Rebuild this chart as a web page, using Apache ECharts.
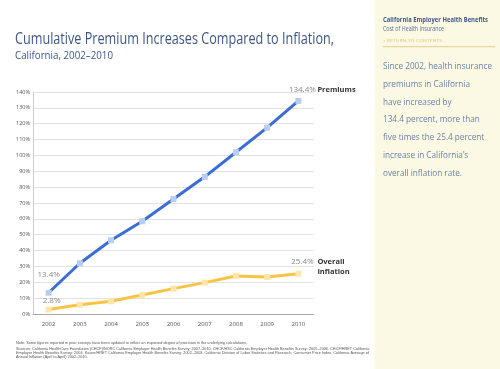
<!DOCTYPE html>
<html><head><meta charset="utf-8">
<script src="https://cdn.jsdelivr.net/npm/echarts@6/dist/echarts.min.js"></script>
<style>html,body{margin:0;padding:0;background:#fff}#c{width:500px;height:369px}</style>
</head><body><div id="c"></div>
<script>
const years = ['2002','2003','2004','2005','2006','2007','2008','2009','2010'];
const premiums = [13.4, 32.0, 46.5, 58.5, 72.5, 86.5, 102.0, 117.5, 134.4];
const inflation = [2.8, 5.8, 8.0, 12.0, 16.0, 19.8, 24.0, 23.3, 25.4];
const yTicks = {min: 0, max: 140, interval: 10};
const panelLines = ['Since 2002, health insurance','premiums in California','have increased by','134.4 percent, more than','five times the 25.4 percent','increase in California\u2019s','overall inflation rate.'];
const footLines = [
 'Note: Some figures reported in prior surveys have been updated to reflect an improved degree of precision in the underlying calculations.',
 'Sources: California HealthCare Foundation (CHCF)/NORC California Employer Health Benefits Survey: 2007\u20132010. CHCF/HSC California Employer Health Benefits Survey: 2005\u20132006. CHCF/HRET California',
 'Employer Health Benefits Survey: 2004. Kaiser/HRET California Employer Health Benefits Survey: 2002\u20132003. California Division of Labor Statistics and Research, Consumer Price Index, California Average of',
 'Annual Inflation (April to April) 2002\u20132010.'
];

const sans = "'Open Sans','Liberation Sans',sans-serif";
const mctx = document.createElement('canvas').getContext('2d');
function widthOf(text, font) { mctx.font = font; return mctx.measureText(text).width; }
function fitText(text, font, x, y, target, fill, sx) {
  const scaleX = sx != null ? sx : target / widthOf(text, font);
  return {type: 'text', x: x, y: y, scaleX: scaleX, style: {text: text, font: font, fill: fill, verticalAlign: 'middle'}};
}

function withEndLabels(vals, firstDist, firstOff, lastDist) {
  return vals.map((v, i) => {
    if (i === 0) return {value: v, label: {show: true, position: 'top', distance: firstDist, offset: firstOff}};
    if (i === vals.length - 1) return {value: v, label: {show: true, position: 'top', distance: lastDist, offset: [4, 0]}};
    return v;
  });
}

const titleFont = "17px " + sans;
const paraFont = "9.5px " + sans;
const footFont = "3.8px 'Liberation Sans',sans-serif";
const paraScale = 109 / widthOf(panelLines[0], paraFont);
const footScale = 231 / widthOf(footLines[0], footFont);

const graphics = [
  {type: 'rect', shape: {x: 375, y: 0, width: 125, height: 369}, style: {fill: '#fbf9e4'}, silent: true},
  fitText('Cumulative Premium Increases Compared to Inflation,', titleFont, 15, 39.5, 319, '#3d5784'),
  fitText('California, 2002\u20132010', "11.5px " + sans, 15, 56, 98, '#3d5784'),
  fitText('California Employer Health Benefits', "bold 7px " + sans, 383, 19.5, 105, '#3d5784'),
  fitText('Cost of Health Insurance', "6.5px " + sans, 383, 28.7, 61, '#5a6e90'),
  fitText('\u00ab RETURN TO CONTENTS', "4px " + sans, 383, 40.7, 59, '#e5c08a'),
  {type: 'line', shape: {x1: 383, y1: 46.7, x2: 495, y2: 46.7}, style: {stroke: '#e3cd8e', lineWidth: 1}}
];
panelLines.forEach((t, i) => graphics.push(fitText(t, paraFont, 383, 66 + 17.9 * i, 0, '#6a82a8', paraScale)));
const footY = [342.5, 349, 353.2, 357.3];
footLines.forEach((t, i) => graphics.push(fitText(t, footFont, 16, footY[i], 0, '#555', footScale)));

const chart = echarts.init(document.getElementById('c'), null, {renderer: 'canvas'});
chart.setOption({
  animation: false,
  backgroundColor: '#fff',
  grid: {left: 33, right: 186, top: 92, bottom: 55, containLabel: false},
  xAxis: {
    type: 'category', data: years, boundaryGap: true,
    axisLine: {lineStyle: {color: '#aaa', width: 1}},
    axisTick: {alignWithLabel: true, length: 5, lineStyle: {color: '#888'}},
    axisLabel: {fontSize: 6, color: '#555', margin: 7, fontFamily: sans}
  },
  yAxis: {
    type: 'value', min: yTicks.min, max: yTicks.max, interval: yTicks.interval,
    axisLine: {show: true, lineStyle: {color: '#ccc'}},
    axisTick: {show: false},
    splitLine: {lineStyle: {color: '#e2e2e2', width: 1}},
    axisLabel: {formatter: '{value}%', fontSize: 5.5, color: '#555', margin: 3, fontFamily: sans}
  },
  series: [
    {
      name: 'Premiums', type: 'line', data: withEndLabels(premiums, 11, [0, 0], 4.5),
      symbol: 'rect', symbolSize: 6, showAllSymbol: true,
      lineStyle: {color: '#3a6ed3', width: 3},
      itemStyle: {color: '#b9cdf0'},
      label: {fontSize: 8, color: '#8a8a8a', fontFamily: sans, formatter: p => p.value + '%'},
      endLabel: {show: true, formatter: 'Premiums', fontSize: 7.5, fontWeight: 'bold', color: '#333', fontFamily: sans, distance: 0, offset: [19, -11]}
    },
    {
      name: 'Overall Inflation', type: 'line', data: withEndLabels(inflation, 2, [3, 0], 5),
      symbol: 'rect', symbolSize: 6, showAllSymbol: true,
      lineStyle: {color: '#fbc345', width: 3},
      itemStyle: {color: '#fde7a8'},
      label: {fontSize: 8, color: '#8a8a8a', fontFamily: sans, formatter: p => p.value + '%'},
      endLabel: {show: true, formatter: 'Overall\nInflation', fontSize: 7.5, fontWeight: 'bold', color: '#333', lineHeight: 9.5, fontFamily: sans, distance: 0, offset: [19, -7]}
    }
  ],
  graphic: graphics
});
</script></body></html>
